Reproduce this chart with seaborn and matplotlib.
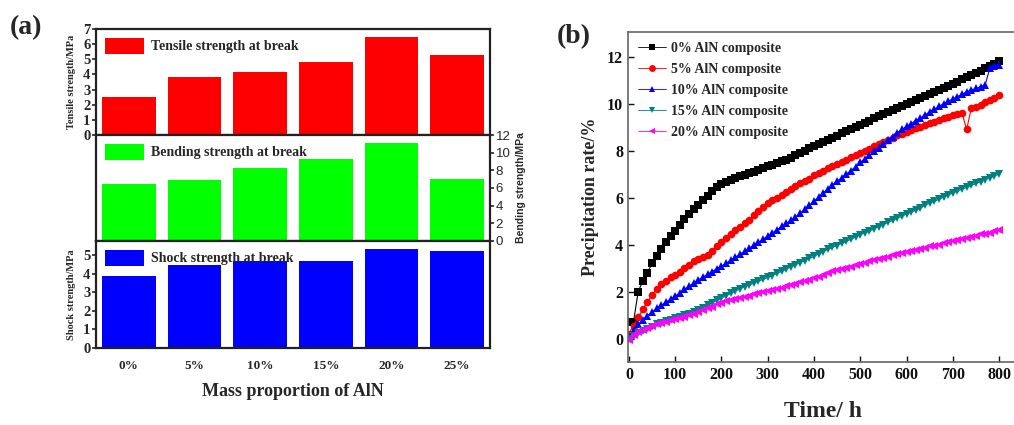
import numpy as np
import pandas as pd
import matplotlib
matplotlib.use("Agg")
import matplotlib.pyplot as plt
import seaborn as sns

# ---------------- data ----------------
categories = ["0%", "5%", "10%", "15%", "20%", "25%"]
tensile = [2.5, 3.8, 4.15, 4.85, 6.5, 5.3]
bending = [6.5, 6.9, 8.3, 9.3, 11.1, 7.0]
shock = [3.85, 4.45, 4.7, 4.7, 5.3, 5.2]

time_h = list(range(0, 801, 10))
aln0 = [0.72, 0.72, 2.0, 2.45, 2.8, 3.2, 3.5, 3.8, 4.1, 4.35, 4.57, 4.85, 5.07, 5.3, 5.5, 5.68,
        5.88, 6.08, 6.27, 6.45, 6.58, 6.66, 6.75, 6.83, 6.9, 6.97, 7.03, 7.1, 7.17, 7.25, 7.33,
        7.4, 7.48, 7.55, 7.62, 7.7, 7.8, 7.9, 8.0, 8.1, 8.18, 8.27, 8.36, 8.45, 8.55, 8.64, 8.73,
        8.82, 8.91, 9.0, 9.1, 9.19, 9.28, 9.37, 9.46, 9.55, 9.64, 9.73, 9.82, 9.91, 10.0, 10.08,
        10.17, 10.25, 10.34, 10.42, 10.5, 10.59, 10.67, 10.76, 10.85, 10.94, 11.03, 11.12, 11.2,
        11.3, 11.4, 11.5, 11.6, 11.7, 11.8]
aln5 = [0.2, 0.55, 0.9, 1.25, 1.55, 1.85, 2.1, 2.3, 2.45, 2.6, 2.72, 2.85, 3.0, 3.12, 3.28, 3.4,
        3.47, 3.55, 3.72, 3.92, 4.12, 4.3, 4.45, 4.6, 4.75, 4.9, 5.05, 5.25, 5.45, 5.62, 5.78,
        5.9, 6.0, 6.12, 6.25, 6.38, 6.5, 6.6, 6.7, 6.8, 6.95, 7.05, 7.15, 7.25, 7.35, 7.42, 7.52,
        7.62, 7.72, 7.8, 7.88, 7.98, 8.08, 8.2, 8.3, 8.38, 8.45, 8.55, 8.65, 8.72, 8.8, 8.87,
        8.95, 9.02, 9.1, 9.17, 9.22, 9.3, 9.37, 9.45, 9.5, 9.55, 9.6, 8.9, 9.8, 9.85, 9.95,
        10.05, 10.15, 10.25, 10.35]
aln10 = [0.05, 0.35, 0.6, 0.8, 0.97, 1.13, 1.28, 1.42, 1.55, 1.68, 1.8, 1.95, 2.1, 2.23, 2.37,
         2.5, 2.62, 2.73, 2.85, 2.97, 3.08, 3.2, 3.33, 3.46, 3.59, 3.72, 3.85, 3.97, 4.1, 4.23,
         4.36, 4.5, 4.63, 4.77, 4.9, 5.03, 5.18, 5.33, 5.5, 5.68, 5.85, 6.02, 6.2, 6.38, 6.55,
         6.7, 6.85, 7.0, 7.15, 7.32, 7.5, 7.65, 7.8, 7.97, 8.12, 8.3, 8.45, 8.6, 8.75, 8.9, 9.03,
         9.15, 9.28, 9.4, 9.52, 9.65, 9.76, 9.88, 10.0, 10.1, 10.2, 10.3, 10.4, 10.5, 10.58,
         10.65, 10.72, 10.8, 11.5, 11.6, 11.65]
aln15 = [0.0, 0.12, 0.22, 0.32, 0.42, 0.5, 0.6, 0.68, 0.75, 0.8, 0.86, 0.92, 0.98, 1.05, 1.13,
         1.22, 1.32, 1.42, 1.52, 1.62, 1.72, 1.82, 1.92, 2.02, 2.12, 2.2, 2.28, 2.36, 2.44, 2.52,
         2.6, 2.68, 2.77, 2.86, 2.95, 3.05, 3.14, 3.23, 3.32, 3.41, 3.5, 3.6, 3.7, 3.8, 3.88,
         3.96, 4.05, 4.14, 4.23, 4.32, 4.42, 4.5, 4.58, 4.67, 4.76, 4.85, 4.94, 5.03, 5.12, 5.21,
         5.3, 5.38, 5.46, 5.55, 5.68, 5.76, 5.84, 5.93, 6.02, 6.11, 6.2, 6.28, 6.36, 6.44, 6.52,
         6.6, 6.68, 6.76, 6.84, 6.92, 7.0]
aln20 = [-0.05, 0.15, 0.28, 0.38, 0.46, 0.53, 0.6, 0.66, 0.72, 0.77, 0.82, 0.87, 0.92, 0.98, 1.05,
         1.12, 1.2, 1.28, 1.36, 1.45, 1.53, 1.58, 1.63, 1.68, 1.73, 1.78, 1.83, 1.88, 1.93, 1.97,
         2.02, 2.07, 2.12, 2.17, 2.22, 2.27, 2.33, 2.39, 2.45, 2.51, 2.57, 2.64, 2.72, 2.8, 2.86,
         2.9, 2.95, 3.0, 3.06, 3.12, 3.18, 3.23, 3.28, 3.33, 3.38, 3.43, 3.49, 3.55, 3.6, 3.65,
         3.7, 3.74, 3.78, 3.83, 3.87, 3.92, 3.96, 4.0, 4.05, 4.1, 4.15, 4.2, 4.25, 4.3, 4.34,
         4.38, 4.43, 4.47, 4.51, 4.56, 4.6]

series_labels = ["0% AlN composite", "5% AlN composite", "10% AlN composite",
                 "15% AlN composite", "20% AlN composite"]

# ---------------- style ----------------
sns.set_style("ticks")
plt.rcParams['font.family'] = ['Liberation Serif', 'DejaVu Serif']
plt.rcParams['font.weight'] = 'bold'
plt.rcParams['axes.labelweight'] = 'bold'

fig = plt.figure(figsize=(10.14, 4.25), dpi=100)

W, H = 1014.0, 425.0
def pos(x0, y0, x1, y1):
    return [x0 / W, 1 - y1 / H, (x1 - x0) / W, (y1 - y0) / H]

ax_t = fig.add_axes(pos(96, 29, 490, 135))
ax_m = fig.add_axes(pos(96, 135, 490, 241))
ax_b = fig.add_axes(pos(96, 241, 490, 348))

df = pd.DataFrame({"cat": categories, "tensile": tensile, "bending": bending, "shock": shock})

bar_specs = [
    (ax_t, "tensile", "#FF0000", "Tensile strength at break"),
    (ax_m, "bending", "#00FF00", "Bending strength at break"),
    (ax_b, "shock", "#0000FF", "Shock strength at break"),
]
for ax, col, color, lab in bar_specs:
    sns.barplot(data=df, x="cat", y=col, color=color, width=0.82, ax=ax,
                label=lab, saturation=1, edgecolor="none")
    ax.set_xlim(-0.5, 5.5)
    for sp in ax.spines.values():
        sp.set_visible(True)
        sp.set_linewidth(1.6)
        sp.set_color("#222222")
    ax.legend(loc="upper left", frameon=False, handlelength=2.8, handleheight=1.35,
              borderaxespad=0.25, handletextpad=0.5,
              prop={"family": "Liberation Serif", "weight": "bold", "size": 10})
    ax.set_xlabel("")

ax_t.set_ylim(0, 7)
ax_t.set_yticks(range(0, 8))
ax_t.set_ylabel("Tensile strength/MPa", fontsize=7.5, labelpad=5)
ax_t.tick_params(axis="x", bottom=False, labelbottom=False)
ax_t.tick_params(axis="y", labelsize=10.5, length=3, width=1.2, pad=1)

ax_m.set_ylim(0, 12)
ax_m.set_yticks(range(0, 13, 2))
ax_m.yaxis.tick_right()
ax_m.yaxis.set_label_position("right")
ax_m.set_ylabel("Bending strength/MPa", fontsize=7.5, family="Liberation Sans",
                fontweight="bold", labelpad=4)
ax_m.tick_params(axis="x", bottom=False, labelbottom=False)
ax_m.tick_params(axis="y", labelsize=9.5, length=3, width=1.2, pad=1)
for t in ax_m.get_yticklabels():
    t.set_family("Liberation Sans")
    t.set_fontweight("normal")

ax_b.set_ylim(0, 5.75)
ax_b.set_yticks(range(0, 6))
ax_b.set_ylabel("Shock strength/MPa", fontsize=7.5, labelpad=5)
ax_b.tick_params(axis="x", bottom=False, labelsize=9.5, pad=5)
ax_b.tick_params(axis="y", labelsize=10.5, length=3, width=1.2, pad=1)
ax_b.set_xlabel("Mass proportion of AlN", fontsize=13, labelpad=8)
for t in ax_b.get_xticklabels():
    t.set_fontweight("bold")

fig.text(10 / W, 1 - 28 / H, "(a)", fontsize=20, fontweight="bold", va="center")

# ---------------- panel b ----------------
ax2 = fig.add_axes([628 / W, 1 - 362 / H, 390 / W, 330 / H])
line_specs = [
    (aln0, "#000000", "s"),
    (aln5, "#FF0000", "o"),
    (aln10, "#0000FF", "^"),
    (aln15, "#008080", "v"),
    (aln20, "#FF00FF", "<"),
]
for (vals, color, mk), lab in zip(line_specs, series_labels):
    sns.lineplot(x=time_h, y=vals, color=color, marker=mk, markersize=5.5,
                 markeredgewidth=0, linewidth=0.8, ax=ax2, label=lab)

ax2.set_xlim(-2, 841)
ax2.set_ylim(-1, 13.05)
ax2.set_xticks(range(0, 801, 100))
ax2.set_yticks(range(0, 13, 2))
ax2.tick_params(direction="in", length=4, width=1, labelsize=11.5, colors="#111111")
for sp in ax2.spines.values():
    sp.set_color("#666666")
    sp.set_linewidth(1.2)
for t in ax2.get_xticklabels() + ax2.get_yticklabels():
    t.set_fontweight("bold")
ax2.set_xlabel("Time/ h", fontsize=17, labelpad=13)
ax2.set_ylabel("Precipitation rate/%", fontsize=13, labelpad=6)
leg = ax2.legend(loc="upper left", frameon=False, handlelength=2.0, handletextpad=0.4,
                 labelspacing=0.58, borderaxespad=0.3, markerscale=0.9,
                 prop={"family": "Liberation Serif", "weight": "bold", "size": 10})
for h in leg.legend_handles:
    h.set_alpha(None)
    h.set_linewidth(0.6)

fig.text(557 / W, 1 - 37 / H, "(b)", fontsize=20, fontweight="bold", va="center")

fig.savefig("out.png", dpi=100)
